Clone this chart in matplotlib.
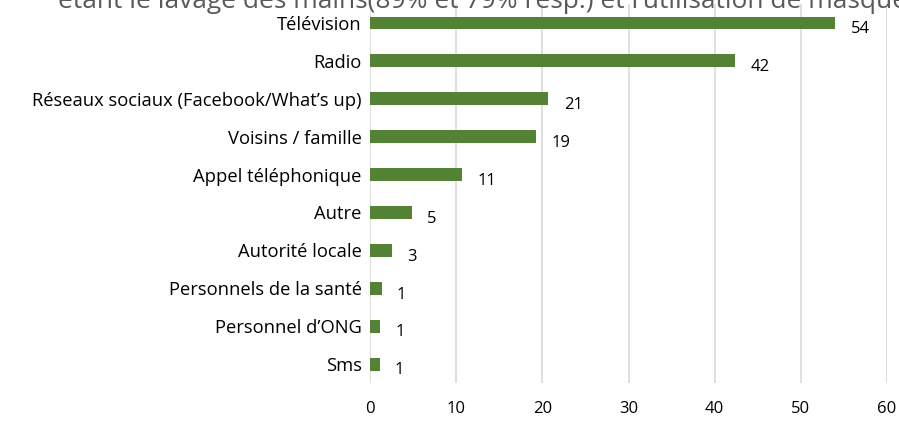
import matplotlib.pyplot as plt

categories = ['Télévision', 'Radio', 'Réseaux sociaux (Facebook/What’s up)', 'Voisins / famille',
              'Appel téléphonique', 'Autre', 'Autorité locale', 'Personnels de la santé',
              "Personnel d’ONG", 'Sms']
values = [54.0, 42.4, 20.7, 19.3, 10.7, 4.85, 2.5, 1.35, 1.2, 1.1]
labels = ['54', '42', '21', '19', '11', '5', '3', '1', '1', '1']
title_text = "étant le lavage des mains(89% et 79% resp.) et l’utilisation de masque"

plt.rcParams['font.family'] = ['Open Sans', 'DejaVu Sans']

fig = plt.figure(figsize=(8.99, 4.22), dpi=100)
ax = fig.add_axes([0.4116, 0.0924, 0.5751, 0.8981])

y = list(range(len(categories)))[::-1]
ax.barh(y, values, height=0.34, color='#548235', zorder=3)

for yi, v, lab in zip(y, values, labels):
    ax.annotate(lab, (v, yi), xytext=(11, -4.5), textcoords='offset points',
                ha='left', va='center', fontsize=12, color='#000000')

ax.set_xlim(0, 60)
ax.set_ylim(-0.5, len(categories) - 0.5)
ax.set_xticks(range(0, 61, 10))
ax.set_yticks(y)
ax.set_yticklabels(categories, fontsize=13.2, color='#000000')
ax.tick_params(axis='y', length=0, pad=6)
ax.tick_params(axis='x', length=0, pad=13, labelsize=12)
ax.grid(axis='x', color='#d9d9d9', linewidth=1.2, zorder=0)
for s in ax.spines.values():
    s.set_visible(False)

fig.text(0.537, 1 - 8 / 422, title_text, ha='center', va='baseline', fontsize=19, color='#595959')

fig.savefig('out.png', dpi=100)
